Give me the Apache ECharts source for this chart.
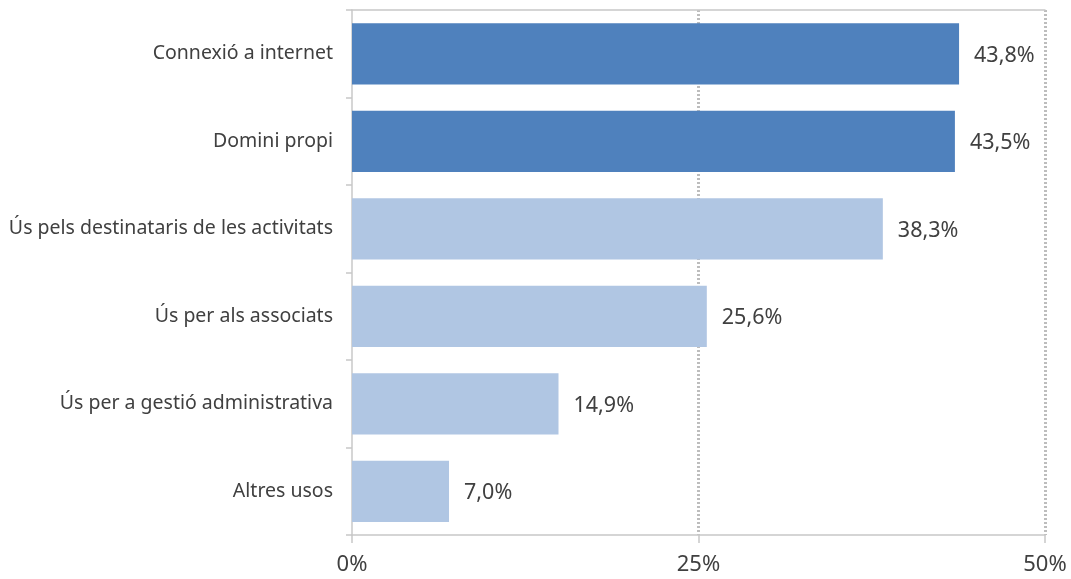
<!DOCTYPE html>
<html>
<head>
<meta charset="utf-8">
<script src="https://cdn.jsdelivr.net/npm/echarts@6/dist/echarts.min.js"></script>
<style>html,body{margin:0;padding:0;background:#fff}#c{width:1071px;height:579px}</style>
</head>
<body>
<div id="c"></div>
<script>
const categories = ["Connexió a internet", "Domini propi", "Ús pels destinataris de les activitats", "Ús per als associats", "Ús per a gestió administrativa", "Altres usos"];
const values = [43.8, 43.5, 38.3, 25.6, 14.9, 7.0];
const highlighted = [true, true, false, false, false, false];
const xTicks = [0, 25, 50];

const axisGray = '#C8C8C8';
const textColor = '#404040';
const fontFamily = '"Noto Sans", sans-serif';

const chart = echarts.init(document.getElementById('c'));
chart.setOption({
  animation: false,
  grid: { left: 352, right: 26, top: 10, bottom: 44, containLabel: false },
  xAxis: [{
    type: 'value', min: xTicks[0], max: xTicks[xTicks.length - 1], interval: xTicks[1] - xTicks[0],
    axisLine: { show: true, lineStyle: { color: axisGray, width: 1.5 } },
    axisTick: { show: true, length: 8, lineStyle: { color: axisGray, width: 1.5 } },
    axisLabel: { formatter: '{value}%', fontSize: 22, color: textColor, margin: 19, fontFamily: fontFamily },
    splitLine: { show: true, showMinLine: false, lineStyle: { color: '#BDBDBD', width: 3, type: [2, 2] } }
  }, {
    type: 'value', position: 'top', min: xTicks[0], max: xTicks[xTicks.length - 1],
    axisLine: { show: true, lineStyle: { color: axisGray, width: 1.5 } },
    axisTick: { show: false }, axisLabel: { show: false }, splitLine: { show: false }
  }],
  yAxis: {
    type: 'category', data: categories, inverse: true,
    axisLine: { show: true, lineStyle: { color: axisGray, width: 1.5 } },
    axisTick: { show: true, length: 6, lineStyle: { color: axisGray, width: 1.5 } },
    axisLabel: { fontSize: 19.5, color: textColor, margin: 19, fontFamily: fontFamily }
  },
  series: [{
    type: 'bar', data: values, xAxisIndex: 0, barCategoryGap: '30%',
    itemStyle: { color: p => highlighted[p.dataIndex] ? '#4F81BD' : '#B0C6E3' },
    label: {
      show: true, position: 'right', distance: 15, fontSize: 21.5, color: textColor, fontFamily: fontFamily,
      offset: [0, 2],
      formatter: p => p.value.toFixed(1).replace('.', ',') + '%'
    }
  }]
});
</script>
</body>
</html>
